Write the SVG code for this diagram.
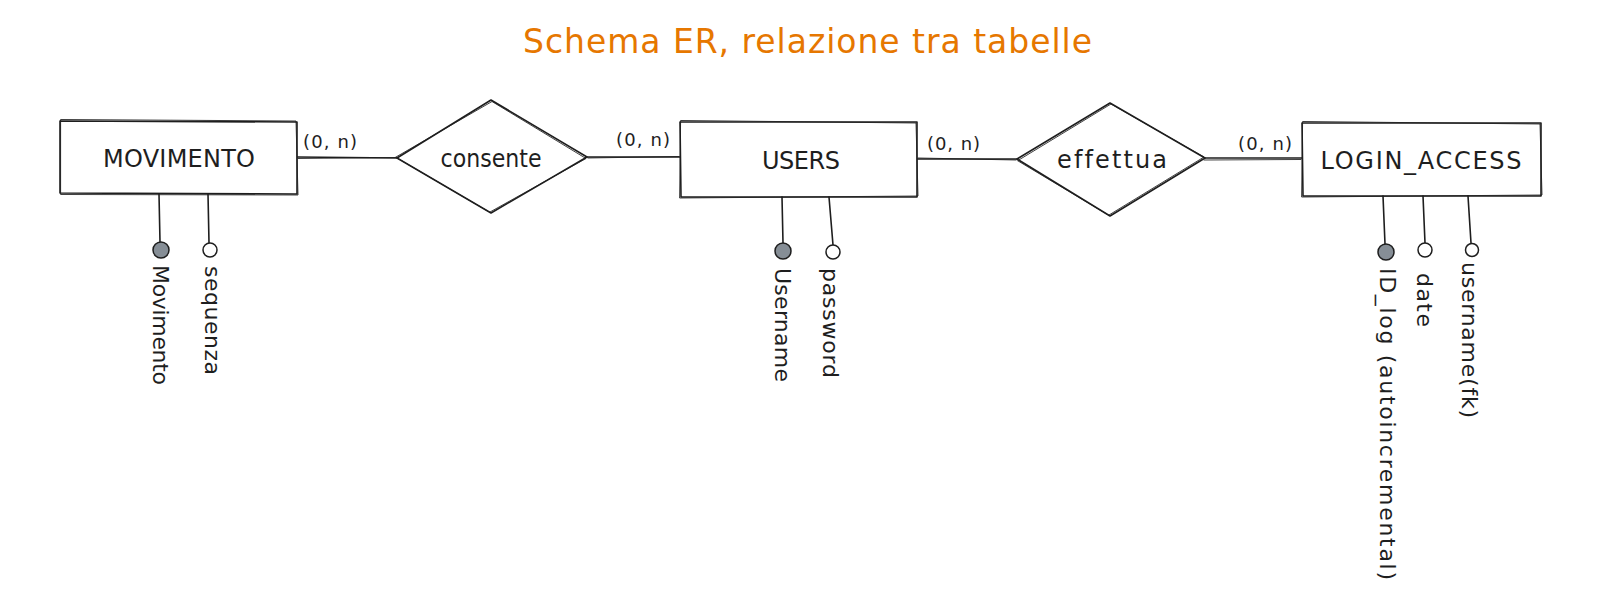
<svg xmlns="http://www.w3.org/2000/svg" width="1611" height="606" viewBox="0 0 1611 606">
<style>
  .bg { fill: #ffffff; }
  .shape { fill: none; stroke: #1e1e1e; stroke-width: 1.6; stroke-linejoin: round; stroke-linecap: round; }
  .shape2 { fill: none; stroke: #1e1e1e; stroke-width: 1; stroke-linejoin: round; stroke-linecap: round; opacity: 0.85; }
  .fillw { fill: #ffffff; }
  .key { fill: #868e96; stroke: #1e1e1e; stroke-width: 1.5; }
  .attr { fill: #ffffff; stroke: #1e1e1e; stroke-width: 1.5; }
  .t { font-family: "DejaVu Sans", "Liberation Sans", sans-serif; fill: #1e1e1e; font-variant-ligatures: none; }
  .ent { font-size: 24px; text-anchor: middle; }
  .rel { font-size: 24px; text-anchor: middle; }
  .card { font-size: 18px; }
  .att { font-size: 22px; }
  .title { font-family: "DejaVu Sans", "Liberation Sans", sans-serif; font-size: 33px; fill: #e67700; font-variant-ligatures: none; }
</style>
<rect class="bg" x="0" y="0" width="1611" height="606"/>

<text class="title" x="523" y="53" textLength="569" lengthAdjust="spacing">Schema ER, relazione tra tabelle</text>

<g id="connectors">
  <path class="shape" d="M297 157 L397 158"/>
  <path class="shape2" d="M298 158.5 L396 157.5"/>
  <path class="shape" d="M587 157 L680 157"/>
  <path class="shape2" d="M588 158 L679 156.5"/>
  <path class="shape" d="M917 159 L1017 159"/>
  <path class="shape2" d="M918 158 L1016 160"/>
  <path class="shape" d="M1205 158 L1302 158"/>
  <path class="shape2" d="M1204 160 L1301 159.5"/>
  <text class="t card" x="303" y="148" textLength="54" lengthAdjust="spacing">(0, n)</text>
  <text class="t card" x="616" y="146" textLength="54" lengthAdjust="spacing">(0, n)</text>
  <text class="t card" x="927" y="150" textLength="53" lengthAdjust="spacing">(0, n)</text>
  <text class="t card" x="1238" y="150" textLength="54" lengthAdjust="spacing">(0, n)</text>
</g>

<g id="movimento">
  <path class="shape fillw" d="M60 121 L297 122 L297 194 L60 193 Z"/>
  <path class="shape2" d="M61 119.5 L296 121 L298 195 L61 194.5 Z"/>
  <text class="t ent" x="179" y="167" textLength="152" lengthAdjust="spacing">MOVIMENTO</text>
</g>

<g id="attr-movimento">
  <path class="shape" d="M159 194 L160 242"/>
  <circle class="key" cx="161" cy="250" r="8"/>
  <text class="t att" transform="translate(153,265) rotate(90)" textLength="120" lengthAdjust="spacing">Movimento</text>
</g>

<g id="attr-sequenza">
  <path class="shape" d="M208 194 L209 243"/>
  <circle class="attr" cx="210" cy="250" r="7"/>
  <text class="t att" transform="translate(205,266) rotate(90)" textLength="109" lengthAdjust="spacing">sequenza</text>
</g>

<g id="consente">
  <path class="shape fillw" d="M397 158 L491 100 L587 157 L491 213 Z"/>
  <path class="shape2" d="M396 157 L492 101.5 L586 158.5 L490 212 Z"/>
  <text class="t rel" x="491" y="167" textLength="101" lengthAdjust="spacingAndGlyphs">consente</text>
</g>

<g id="users">
  <path class="shape fillw" d="M680 122 L917 122 L917 197 L681 197 Z"/>
  <path class="shape2" d="M681 120.5 L916 123 L918 196 L680 198 Z"/>
  <text class="t ent" x="801" y="169" textLength="78" lengthAdjust="spacing">USERS</text>
</g>

<g id="attr-username">
  <path class="shape" d="M782 197 L783 243"/>
  <circle class="key" cx="783" cy="251" r="8"/>
  <text class="t att" transform="translate(775,268) rotate(90)" textLength="114" lengthAdjust="spacing">Username</text>
</g>

<g id="attr-password">
  <path class="shape" d="M829 197 L833 245"/>
  <circle class="attr" cx="833" cy="252" r="7"/>
  <text class="t att" transform="translate(823,268) rotate(90)" textLength="110" lengthAdjust="spacing">password</text>
</g>

<g id="effettua">
  <path class="shape fillw" d="M1017 159 L1110 103 L1205 158 L1110 216 Z"/>
  <path class="shape2" d="M1018 160.5 L1111 104 L1204 157 L1109 215 Z"/>
  <text class="t rel" x="1112" y="168" textLength="110" lengthAdjust="spacing">effettua</text>
</g>

<g id="login_access">
  <path class="shape fillw" d="M1302 123 L1541 123 L1541 196 L1303 196 Z"/>
  <path class="shape2" d="M1303 121.5 L1540 124 L1542 195 L1302 197 Z"/>
  <text class="t ent" x="1421" y="169" textLength="201" lengthAdjust="spacing">LOGIN_ACCESS</text>
</g>

<g id="attr-idlog">
  <path class="shape" d="M1383 196 L1385 244"/>
  <circle class="key" cx="1386" cy="252" r="8"/>
  <text class="t att" transform="translate(1380,268) rotate(90)" textLength="312" lengthAdjust="spacing">ID_log (autoincremental)</text>
</g>

<g id="attr-date">
  <path class="shape" d="M1423 196 L1425 243"/>
  <circle class="attr" cx="1425" cy="250" r="7"/>
  <text class="t att" transform="translate(1417,273) rotate(90)" textLength="54" lengthAdjust="spacing">date</text>
</g>

<g id="attr-usernamefk">
  <path class="shape" d="M1468 196 L1471 243"/>
  <circle class="attr" cx="1472" cy="250" r="6.5"/>
  <text class="t att" transform="translate(1462,262) rotate(90)" textLength="156" lengthAdjust="spacing">username(fk)</text>
</g>
</svg>
